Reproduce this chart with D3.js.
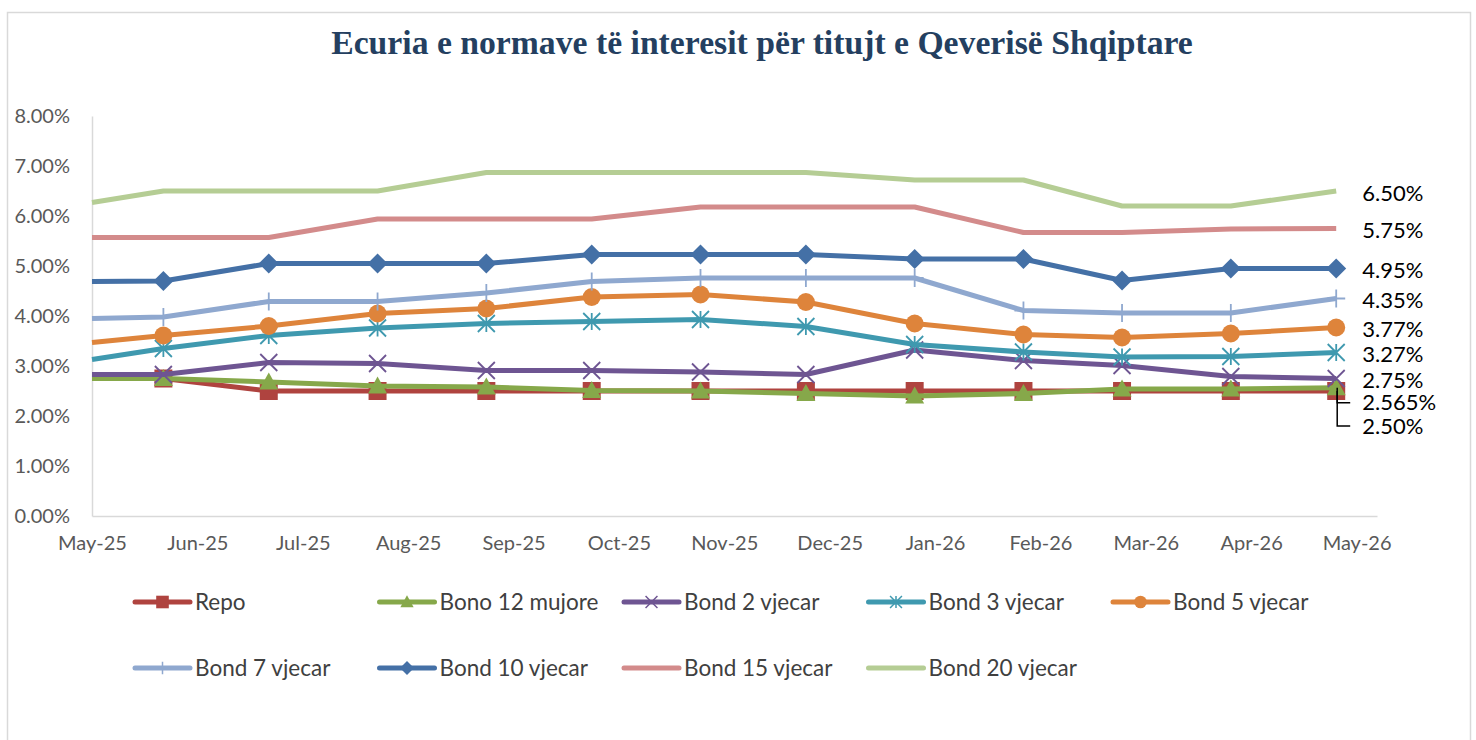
<!DOCTYPE html>
<html>
<head>
<meta charset="utf-8">
<script src="https://cdn.jsdelivr.net/npm/d3@7"></script>
<style>
  body { margin: 0; background: #fff; }
  text { font-family: Lato, "Open Sans", sans-serif; }
</style>
</head>
<body>
<div class="chart"></div>
<script>
var svgWidth = 1476;
var svgHeight = 740;

var margin = {
  top: 116,
  right: 99,
  bottom: 224,
  left: 92
};

var width = svgWidth - margin.left - margin.right;
var height = svgHeight - margin.top - margin.bottom;

// Data
var dates = ["2025-05-01", "2025-05-22", "2025-06-22", "2025-07-24", "2025-08-25", "2025-09-25",
  "2025-10-27", "2025-11-27", "2025-12-29", "2026-01-30", "2026-02-28", "2026-04-01", "2026-05-02"];

var repo    = [2.75, 2.75, 2.50, 2.50, 2.50, 2.50, 2.50, 2.50, 2.50, 2.50, 2.50, 2.50, 2.50];
var bono12  = [2.75, 2.75, 2.68, 2.60, 2.58, 2.51, 2.50, 2.45, 2.40, 2.45, 2.54, 2.54, 2.565];
var bond2   = [2.83, 2.83, 3.07, 3.05, 2.91, 2.91, 2.88, 2.83, 3.32, 3.11, 3.01, 2.79, 2.75];
var bond3   = [3.13, 3.35, 3.61, 3.76, 3.85, 3.89, 3.93, 3.79, 3.43, 3.28, 3.18, 3.19, 3.27];
var bond5   = [3.47, 3.61, 3.80, 4.05, 4.15, 4.38, 4.43, 4.28, 3.85, 3.63, 3.57, 3.65, 3.77];
var bond7   = [3.95, 3.98, 4.29, 4.29, 4.46, 4.69, 4.76, 4.76, 4.76, 4.11, 4.06, 4.06, 4.35];
var bond10  = [4.69, 4.70, 5.05, 5.05, 5.05, 5.23, 5.23, 5.23, 5.14, 5.14, 4.71, 4.95, 4.95];
var bond15  = [5.57, 5.57, 5.57, 5.94, 5.94, 5.94, 6.18, 6.18, 6.18, 5.67, 5.67, 5.74, 5.75];
var bond20  = [6.27, 6.50, 6.50, 6.50, 6.87, 6.87, 6.87, 6.87, 6.72, 6.72, 6.20, 6.20, 6.50];

var seriesNames = ["Repo", "Bono 12 mujore", "Bond 2 vjecar", "Bond 3 vjecar", "Bond 5 vjecar",
  "Bond 7 vjecar", "Bond 10 vjecar", "Bond 15 vjecar", "Bond 20 vjecar"];
var seriesValues = [repo, bono12, bond2, bond3, bond5, bond7, bond10, bond15, bond20];

var yTicks = [0, 1, 2, 3, 4, 5, 6, 7, 8];

// styling
var colors = ["#AF433F", "#86A84A", "#6E5592", "#3F99AF", "#DE843B", "#8FA8CF", "#4470A6", "#D38B8B", "#B5CD94"];
var markers = ["square", "triangle", "times", "asterisk", "circle", "plus", "diamond", null, null];
var endLabelShift = [33, 13, 0, 0, 0, 0, 0, 0, 0];   // push the two crowded end labels down

var parseDate = d3.timeParse("%Y-%m-%d");
var xStart = parseDate("2025-05-01");
var xEnd = parseDate("2026-05-14");
// axis labels every 31 days, like the Excel date axis
var xTicks = d3.range(13).map(i => d3.timeDay.offset(xStart, 31 * i));

var svg = d3.select(".chart")
  .append("svg")
  .attr("width", svgWidth)
  .attr("height", svgHeight);

// outer frame
svg.append("rect")
  .attr("x", 7.5).attr("y", 12.5)
  .attr("width", 1463).attr("height", 760)
  .attr("fill", "none")
  .attr("stroke", "#d9d9d9")
  .attr("stroke-width", 1.5);

// title
var title = svg.append("text")
  .attr("x", 762)
  .attr("y", 54)
  .attr("text-anchor", "middle")
  .style("font-family", "'Liberation Serif', 'DejaVu Serif', serif")
  .style("font-weight", "bold")
  .style("font-size", "32px")
  .attr("fill", "#243F60")
  .text("Ecuria e normave të interesit për titujt e Qeverisë Shqiptare");
var tl = title.node().getComputedTextLength();
title.style("font-size", (32 * 862 / tl) + "px");

var chartGroup = svg.append("g")
  .attr("transform", `translate(${margin.left}, ${margin.top})`);

var xScale = d3.scaleTime()
  .domain([xStart, xEnd])
  .range([0, width]);

var yScale = d3.scaleLinear()
  .domain([0, 8])
  .range([height, 0]);

// Y axis
var yAxis = chartGroup.append("g")
  .call(d3.axisLeft(yScale)
    .tickValues(yTicks)
    .tickFormat(d => d.toFixed(2) + "%")
    .tickSize(0)
    .tickPadding(22));
yAxis.select(".domain").attr("stroke", "#d9d9d9").attr("stroke-width", 1.5);
yAxis.selectAll("text").attr("fill", "#595959").style("font-size", "20px");

// X axis
var xAxis = chartGroup.append("g")
  .attr("transform", `translate(0, ${height})`)
  .call(d3.axisBottom(xScale)
    .tickValues(xTicks)
    .tickFormat(d3.timeFormat("%b-%y"))
    .tickSize(0)
    .tickPadding(20));
xAxis.select(".domain").attr("stroke", "#d9d9d9").attr("stroke-width", 1.5);
xAxis.selectAll("text").attr("fill", "#595959").style("font-size", "20px");

function markerPath(type, s) {
  var h = s / 2;
  switch (type) {
    case "square": return `M${-h},${-h}H${h}V${h}H${-h}Z`;
    case "triangle": return `M0,${-h}L${h},${h * 0.8}L${-h},${h * 0.8}Z`;
    case "diamond": return `M0,${-h}L${h},0L0,${h}L${-h},0Z`;
    case "circle": return d3.arc()({innerRadius: 0, outerRadius: h, startAngle: 0, endAngle: 2 * Math.PI});
    case "times": return `M${-h},${-h}L${h},${h}M${h},${-h}L${-h},${h}`;
    case "plus": return `M0,${-h}V${h}M${-h},0H${h}`;
    case "asterisk": return `M${-h},${-h}L${h},${h}M${h},${-h}L${-h},${h}M0,${-h}V${h}`;
  }
  return "";
}
var strokeMarkers = ["times", "plus", "asterisk"];
var markerSize = {square: 18, triangle: 19, diamond: 20, circle: 18, times: 17, plus: 18, asterisk: 17};

var line = d3.line()
  .x(d => xScale(d.date))
  .y(d => yScale(d.value));

seriesNames.forEach(function(name, i) {
  var pts = seriesValues[i].map((v, j) => ({date: parseDate(dates[j]), value: v}));
  var g = chartGroup.append("g");
  g.append("path")
    .datum(pts)
    .attr("d", line)
    .attr("fill", "none")
    .attr("stroke", colors[i])
    .attr("stroke-width", 5)
    .attr("stroke-linejoin", "round");
  if (markers[i]) {
    var isStroke = strokeMarkers.indexOf(markers[i]) >= 0;
    g.selectAll(".mk")
      .data(pts.slice(1))
      .enter()
      .append("path")
      .attr("class", "mk")
      .attr("transform", d => `translate(${xScale(d.date)}, ${yScale(d.value)})`)
      .attr("d", markerPath(markers[i], markerSize[markers[i]]))
      .attr("fill", isStroke ? "none" : colors[i])
      .attr("stroke", colors[i])
      .attr("stroke-width", isStroke ? 1.8 : 0);
  }
});

// end-of-line value labels
function fmtPct(v) {
  var c = v * 100;
  return (Math.abs(c - Math.round(c)) < 1e-6 ? v.toFixed(2) : v.toFixed(3)) + "%";
}
seriesNames.forEach(function(name, i) {
  var vals = seriesValues[i];
  var last = vals[vals.length - 1];
  var px = xScale(parseDate(dates[dates.length - 1]));
  var py = yScale(last);
  var ly = py + 2 + endLabelShift[i];
  if (endLabelShift[i] > 0) {
    chartGroup.append("path")
      .attr("d", `M${px + 1},${py}V${ly}H${px + 14}`)
      .attr("fill", "none")
      .attr("stroke", "#000")
      .attr("stroke-width", 1.5);
  }
  chartGroup.append("text")
    .attr("x", px + 26)
    .attr("y", ly)
    .attr("dy", "0.35em")
    .style("font-size", "22px")
    .attr("fill", "#000")
    .text(fmtPct(last));
});

// legend
var legend = svg.append("g");
seriesNames.forEach(function(name, i) {
  var lx = 135 + (i % 5) * 244.5;
  var ly = 602 + Math.floor(i / 5) * 66;
  var item = legend.append("g").attr("transform", `translate(${lx}, ${ly})`);
  item.append("line")
    .attr("x1", 0).attr("x2", 55)
    .attr("stroke", colors[i])
    .attr("stroke-width", 5)
    .attr("stroke-linecap", "round");
  if (markers[i]) {
    var isStroke = strokeMarkers.indexOf(markers[i]) >= 0;
    item.append("path")
      .attr("transform", "translate(27.5, 0)")
      .attr("d", markerPath(markers[i], markerSize[markers[i]] * 0.7))
      .attr("fill", isStroke ? "none" : colors[i])
      .attr("stroke", colors[i])
      .attr("stroke-width", isStroke ? 1.5 : 0);
  }
  item.append("text")
    .attr("x", 60)
    .attr("dy", "0.35em")
    .style("font-size", "22.5px")
    .attr("fill", "#404040")
    .text(name);
});
</script>
</body>
</html>
